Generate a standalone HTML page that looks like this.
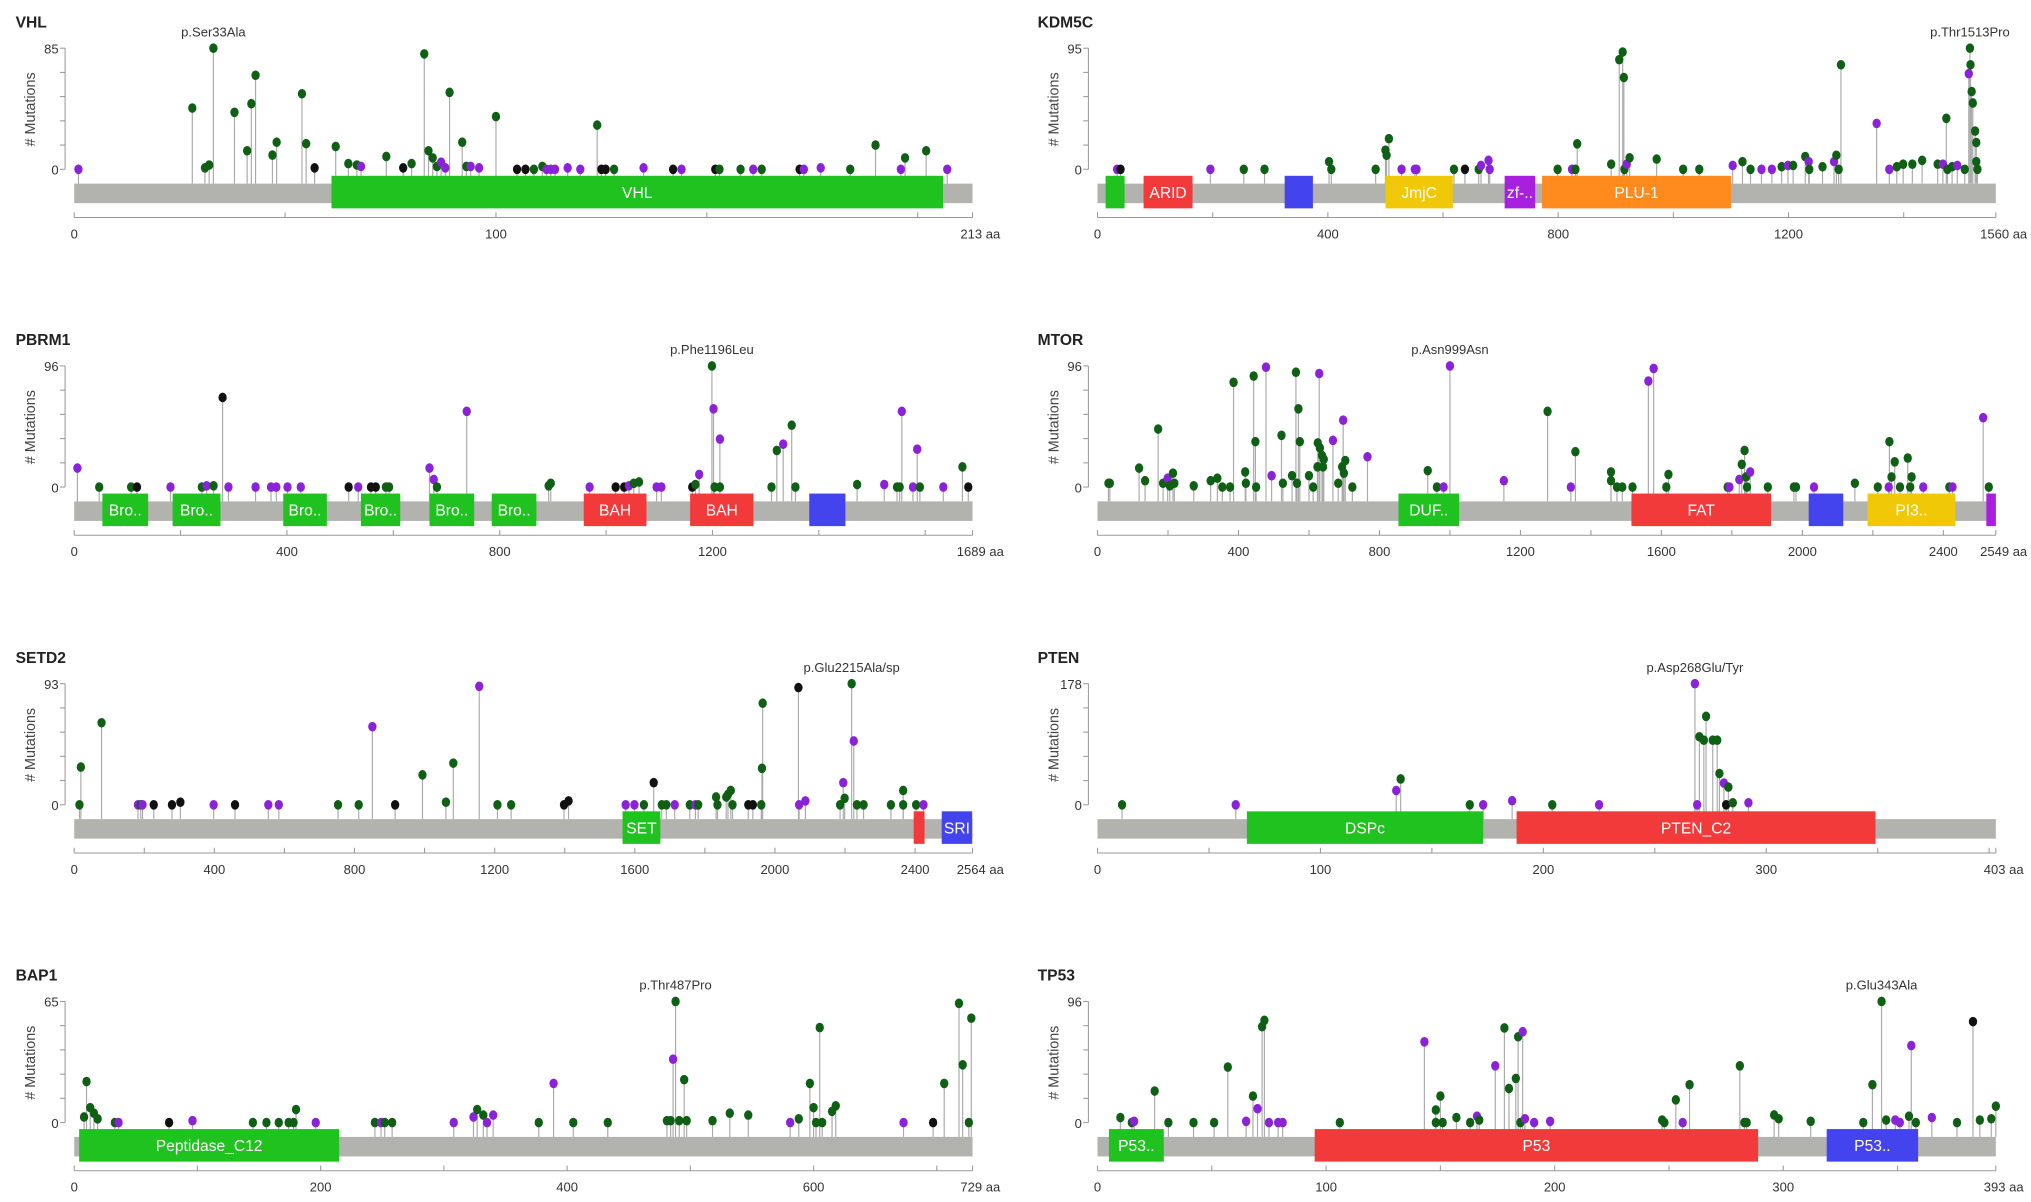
<!DOCTYPE html>
<html><head><meta charset="utf-8">
<style>
html,body{margin:0;padding:0;background:#fff;}
svg{display:block;font-family:"Liberation Sans",Arial,sans-serif;}
</style></head>
<body>
<svg id="fig" xmlns="http://www.w3.org/2000/svg" width="2031" height="1202" viewBox="0 0 1560 923" preserveAspectRatio="none"></svg>
<script>
// ---- VHL ----
const vhlPos=[1,28,31,32,33,38,41,42,43,47,48,54,55,57,62,65,67,68,74,78,80,83,84,85,86,87,88,89,92,93,94,96,100,105,107,109,111,112,113,114,117,120,124,125,126,128,135,142,144,152,153,158,161,163,172,173,177,184,190,196,197,202,207];
const vhlCnt=[0,43,1,3,85,40,13,46,66,10,19,53,18,1,16,4,3,2,9,1,4,81,13,8,2,5,1,54,19,2,2,1,37,0,0,0,2,0,0,0,1,0,31,0,0,0,1,0,0,0,0,0,0,0,0,0,1,0,17,0,8,13,0];
const vhlType=("p"+"gggggggggggg"+"b"+"ggg"+"p"+"g"+"b"+"ggggg"+"pp"+"ggg"+"pp"+"g"+"bb"+"gg"+"ppppp"+"g"+"bb"+"g"+"p"+"b"+"p"+"b"+"gg"+"p"+"g"+"b"+"pp"+"gg"+"p"+"gg"+"p").split("");
// ---- KDM5C ----
const kdmPos=[34,40,196,254,290,402,406,483,500,502,506,528,551,554,619,638,662,666,679,681,799,824,830,833,892,906,912,914,915,919,924,971,1017,1045,1103,1120,1134,1153,1171,1188,1199,1208,1229,1235,1236,1259,1279,1283,1287,1291,1353,1375,1388,1399,1415,1432,1459,1468,1474,1476,1484,1493,1506,1513,1515,1516,1518,1520,1524,1526,1526,1528];
const kdmCnt=[0,0,0,0,0,6,0,0,15,11,24,0,0,0,0,0,0,3,7,0,0,0,0,20,4,86,92,72,0,4,9,8,0,0,3,6,0,0,0,2,3,3,10,6,0,2,6,11,0,82,36,0,2,4,4,7,4,4,40,0,2,3,0,75,95,82,61,52,30,21,6,0];
const kdmType=("pb"+"p"+"gggggggg"+"ppp"+"g"+"b"+"g"+"ppp"+"g"+"p"+"ggggggg"+"p"+"gggg"+"p"+"gg"+"pp"+"g"+"p"+"gg"+"p"+"gg"+"p"+"ggg"+"pp"+"ggggg"+"p"+"ggg"+"p"+"g"+"p"+"gggggggg").split("");
// ---- PBRM1 ----
const pbPos=[6,47,107,118,181,240,249,262,279,290,341,370,380,401,426,516,534,558,567,586,592,668,676,682,738,892,896,969,1018,1034,1043,1052,1062,1095,1104,1162,1168,1175,1199,1202,1204,1214,1214,1311,1321,1333,1349,1356,1472,1523,1547,1552,1556,1577,1585,1590,1634,1670,1681];
const pbCnt=[15,0,0,0,0,0,1,1,71,0,0,0,0,0,0,0,0,0,0,0,0,15,6,0,60,1,3,0,0,0,1,3,4,0,0,0,2,10,96,62,0,38,0,0,29,34,49,0,2,2,0,0,60,0,30,0,0,16,0];
const pbType=("pggbpgpgb"+"pppppp"+"bpbbgg"+"ppgp"+"gg"+"p"+"bb"+"p"+"gg"+"pp"+"b"+"g"+"p"+"gpgpg"+"gg"+"p"+"ggg"+"p"+"gg"+"ppp"+"gpgb").split("");
// ---- MTOR ----
const mtPos=[31,35,118,135,172,186,199,205,214,218,273,321,340,354,376,386,419,421,443,448,450,478,494,522,526,552,563,570,574,566,600,612,624,625,629,631,637,640,642,668,683,694,697,699,703,723,766,937,963,982,1000,1153,1277,1343,1356,1457,1457,1474,1489,1518,1563,1578,1620,1614,1788,1793,1821,1828,1836,1840,1843,1852,1902,1976,1982,2033,2149,2214,2245,2247,2253,2262,2277,2299,2306,2310,2343,2417,2426,2513,2529];
const mtCnt=[3,3,15,5,46,3,7,1,11,3,1,5,7,0,0,83,12,3,88,36,0,95,9,41,3,9,91,62,36,3,9,0,16,35,90,31,25,16,22,37,3,16,53,11,21,0,24,13,0,0,96,5,60,0,28,12,5,0,0,0,84,94,10,0,0,0,6,18,29,8,0,12,0,0,0,0,3,0,0,36,8,20,0,23,0,8,0,0,0,55,0];
const mtType=("gggggg"+"p"+"gggggggggggggg"+"pp"+"ggggggggggg"+"p"+"gggg"+"p"+"gg"+"p"+"ggg"+"p"+"gg"+"ppp"+"g"+"p"+"gggggg"+"pp"+"ggg"+"pp"+"gggg"+"p"+"ggg"+"p"+"gg"+"p"+"ggggggg"+"p"+"g"+"pp"+"g").split("");
// ---- SETD2 ----
const sePos=[15,19,78,182,190,195,227,279,303,398,459,554,584,753,812,851,916,994,1061,1082,1156,1208,1247,1398,1411,1574,1599,1626,1654,1677,1690,1714,1757,1773,1781,1832,1836,1861,1866,1874,1879,1924,1937,1963,1965,1961,2067,2069,2087,2186,2195,2199,2219,2225,2234,2253,2331,2366,2366,2403,2424];
const seCnt=[0,29,63,0,0,0,0,0,2,0,0,0,0,0,0,60,0,23,2,32,91,0,0,0,3,0,0,0,17,0,0,0,0,0,0,6,0,6,8,11,0,0,0,28,78,0,90,0,3,0,17,5,93,49,0,0,0,11,0,0,0];
const seType=("ggg"+"pgp"+"bbb"+"p"+"b"+"pp"+"gg"+"p"+"b"+"ggg"+"p"+"gg"+"bb"+"pp"+"g"+"b"+"gg"+"p"+"g"+"p"+"ggggggg"+"bb"+"ggg"+"b"+"pp"+"g"+"p"+"gg"+"p"+"gggggg"+"p").split("");
// ---- PTEN ----
const ptPos=[11,62,134,136,167,173,186,204,225,268,269,270,272,273,276,278,279,281,282,283,285,292];
const ptCnt=[0,0,21,38,0,0,6,0,0,178,0,100,95,130,95,95,46,32,0,26,3,3];
const ptType=("gppggppgppp"+"gggggg"+"pbggp").split("");
// ---- BAP1 ----
const baPos=[8,10,13,16,19,33,36,77,96,145,156,166,174,178,180,196,244,249,252,258,308,324,327,332,335,340,377,389,405,433,481,484,486,488,491,495,497,518,532,547,581,588,597,600,602,605,607,615,618,673,697,706,718,721,726,728];
const baCnt=[3,22,8,5,2,0,0,0,1,0,0,0,0,0,7,0,0,0,0,0,0,3,7,4,0,4,0,21,0,0,1,1,34,65,1,23,1,1,5,4,0,2,21,8,0,51,0,6,9,0,0,21,64,31,0,56];
const baType=("gggggg"+"pbp"+"gggggg"+"p"+"g"+"p"+"gg"+"pp"+"gg"+"pp"+"g"+"p"+"gggg"+"p"+"ggggggg"+"p"+"gggggggg"+"pb"+"ggggg").split("");
// ---- TP53 ----
const tpPos=[10,15,16,25,31,42,51,57,65,68,70,72,73,75,79,81,106,143,148,148,150,151,157,163,166,167,174,178,180,183,184,185,186,187,191,198,247,248,253,256,259,281,283,284,296,298,312,335,339,343,345,349,351,355,356,358,365,376,383,386,391,393];
const tpCnt=[4,0,1,25,0,0,0,44,1,21,11,76,81,0,0,0,0,64,0,10,21,0,4,0,5,2,45,75,27,35,68,0,72,3,0,1,2,0,18,0,30,45,0,0,6,3,1,0,30,96,2,2,0,5,61,0,4,0,80,2,3,13];
const tpType=("ggp"+"ggggg"+"pg"+"pgg"+"ppp"+"g"+"p"+"gggggg"+"pg"+"p"+"ggggg"+"pppp"+"ggg"+"p"+"ggggggggggg"+"pp"+"g"+"p"+"g"+"p"+"g"+"b"+"ggg").split("");

const COLOR={g:"#0f5f14",p:"#8a22d8",b:"#111111"};
const svg=document.getElementById('fig');
const NS="http://www.w3.org/2000/svg";
function mk(tag,attrs,parent){const e=document.createElementNS(NS,tag);for(const k in attrs)e.setAttribute(k,attrs[k]);(parent||svg).appendChild(e);return e;}

function drawPanel(cfg,pos,cnt,typ){
  const g=mk('g',{});
  
  
  const ox=cfg.col?843:57, W=690, x1=ox+W, oy=cfg.row*244;
  const xs=a=>ox+a/cfg.len*W;
  const ys=c=>oy+130-c/cfg.max*93;
  const t=mk('text',{x:cfg.col?797:12,y:oy+21,'font-size':12,'font-weight':'bold',fill:'#222'},g);t.textContent=cfg.name;
  
  const ax=ox-7;
  mk('line',{x1:ax,y1:oy+37,x2:ax,y2:oy+130,stroke:'#999','stroke-width':0.8},g);
  for(let i=0;i<=5;i++){const yy=oy+130-i*93/5;mk('line',{x1:ax-4,y1:yy,x2:ax,y2:yy,stroke:'#999','stroke-width':0.8},g);}
  const tm=mk('text',{x:ax-5,y:oy+41,'font-size':10,'text-anchor':'end',fill:'#333'},g);tm.textContent=cfg.max;
  
  const t0=mk('text',{x:ax-5,y:oy+134,'font-size':10,'text-anchor':'end',fill:'#333'},g);t0.textContent='0';
  
  const yl=mk('text',{x:0,y:0,'font-size':11,'text-anchor':'middle',fill:'#444',transform:`translate(${ox-30},${oy+84}) rotate(-90)`},g);yl.textContent='# Mutations';
  
  for(let i=0;i<pos.length;i++){
    const l=mk('line',{x1:xs(pos[i]),y1:oy+141,x2:xs(pos[i]),y2:ys(cnt[i]),stroke:'#aaa','stroke-width':0.9},g);
    
  }
  const bar=mk('rect',{x:ox,y:oy+141,width:W,height:15,fill:'#b2b2ae'},g);
  
  for(const d of cfg.doms){
    const r=mk('rect',{x:xs(d[0]),y:oy+135,width:xs(d[1])-xs(d[0]),height:25,fill:d[3]},g);
    
    
    if(d[2]){const tx=mk('text',{x:(xs(d[0])+xs(d[1]))/2,y:oy+152,'font-size':12,'text-anchor':'middle',fill:'#fff'},g);tx.textContent=d[2];
      }
  }
  let mi=0;
  for(let i=0;i<pos.length;i++){
    if(cnt[i]>cnt[mi])mi=i;
    const c=mk('ellipse',{cx:xs(pos[i]),cy:ys(cnt[i]),rx:3.2,ry:3.7,fill:COLOR[typ[i]]||COLOR.g},g);
    
  }
  const lab=mk('text',{x:xs(pos[mi]),y:oy+28,'font-size':10,'text-anchor':'middle',fill:'#333'},g);lab.textContent=cfg.label;
  
  const ay=oy+167;
  mk('line',{x1:ox,y1:ay,x2:x1,y2:ay,stroke:'#999','stroke-width':0.8},g);
  for(let v=0;v<cfg.len;v+=cfg.minor)mk('line',{x1:xs(v),y1:ay-4,x2:xs(v),y2:ay,stroke:'#999','stroke-width':0.8},g);
  mk('line',{x1:x1,y1:ay-4,x2:x1,y2:ay,stroke:'#999','stroke-width':0.8},g);
  for(let v=0;v<cfg.len;v+=cfg.major){
    if(cfg.len-v<cfg.major*0.25)continue;
    const tx=mk('text',{x:xs(v),y:ay+16,'font-size':10,'text-anchor':'middle',fill:'#333'},g);tx.textContent=v;
    
  }
  const te=mk('text',{x:x1+6,y:ay+16,'font-size':10,'text-anchor':'middle',fill:'#333'},g);te.textContent=cfg.len+' aa';
  
}
const GR="#1fc21f",RD="#f23a3a",BL="#4444ee",YL="#f0c808",OR="#ff8a1e",PU="#a81fe0";
drawPanel({name:'VHL',slug:'vhl',col:0,row:0,len:213,max:85,major:100,minor:50,label:'p.Ser33Ala',doms:[[61,206,'VHL',GR]]},vhlPos,vhlCnt,vhlType);
drawPanel({name:'KDM5C',slug:'kdm5c',col:1,row:0,len:1560,max:95,major:400,minor:200,label:'p.Thr1513Pro',doms:[[14,47,'',GR],[80,165,'ARID',RD],[325,374,'',BL],[500,617,'JmjC',YL],[707,760,'zf-..',PU],[772,1100,'PLU-1',OR]]},kdmPos,kdmCnt,kdmType);
drawPanel({name:'PBRM1',slug:'pbrm1',col:0,row:1,len:1689,max:96,major:400,minor:200,label:'p.Phe1196Leu',doms:[[53,139,'Bro..',GR],[185,275,'Bro..',GR],[393,475,'Bro..',GR],[539,613,'Bro..',GR],[668,752,'Bro..',GR],[785,869,'Bro..',GR],[958,1076,'BAH',RD],[1158,1277,'BAH',RD],[1382,1450,'',BL]]},pbPos,pbCnt,pbType);
drawPanel({name:'MTOR',slug:'mtor',col:1,row:1,len:2549,max:96,major:400,minor:200,label:'p.Asn999Asn',doms:[[854,1026,'DUF..',GR],[1515,1911,'FAT',RD],[2018,2116,'',BL],[2185,2434,'PI3..',YL],[2522,2549,'',PU]]},mtPos,mtCnt,mtType);
drawPanel({name:'SETD2',slug:'setd2',col:0,row:2,len:2564,max:93,major:400,minor:200,label:'p.Glu2215Ala/sp',doms:[[1565,1673,'SET',GR],[2396,2427,'',RD],[2476,2563,'SRI',BL]]},sePos,seCnt,seType);
drawPanel({name:'PTEN',slug:'pten',col:1,row:2,len:403,max:178,major:100,minor:50,label:'p.Asp268Glu/Tyr',doms:[[67,173,'DSPc',GR],[188,349,'PTEN_C2',RD]]},ptPos,ptCnt,ptType);
drawPanel({name:'BAP1',slug:'bap1',col:0,row:3,len:729,max:65,major:200,minor:100,label:'p.Thr487Pro',doms:[[4,215,'Peptidase_C12',GR]]},baPos,baCnt,baType);
drawPanel({name:'TP53',slug:'tp53',col:1,row:3,len:393,max:96,major:100,minor:50,label:'p.Glu343Ala',doms:[[5,29,'P53..',GR],[95,289,'P53',RD],[319,359,'P53..',BL]]},tpPos,tpCnt,tpType);
</script>
</body></html>
